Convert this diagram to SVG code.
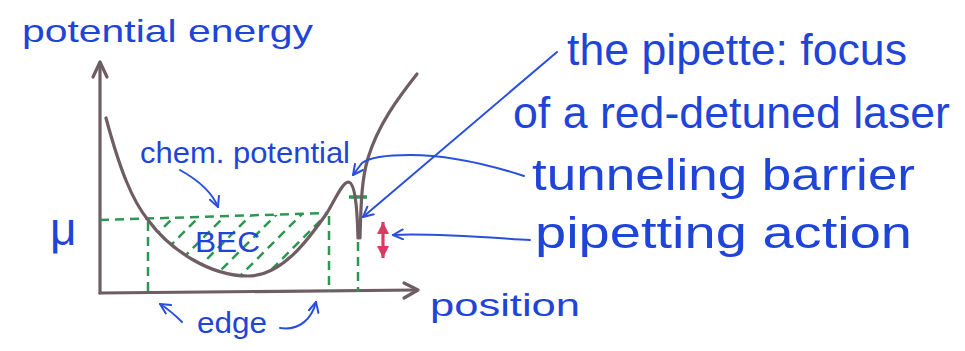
<svg xmlns="http://www.w3.org/2000/svg" width="965" height="351" viewBox="0 0 965 351">
<style>
.ink{fill:#1f44d8;font-family:"Liberation Sans","DejaVu Sans",sans-serif;}
.lead{fill:none;stroke:#2a4fdc;stroke-width:2;stroke-linecap:round;}
.curve{fill:none;stroke:#6e5d62;stroke-width:3.2;stroke-linecap:round;stroke-linejoin:round;}
.dash{fill:none;stroke:#2e9653;stroke-width:2.5;stroke-dasharray:9 6;}
</style>
<defs>
<marker id="blueHead" viewBox="0 0 12 12" refX="11" refY="6" markerWidth="12" markerHeight="12" markerUnits="userSpaceOnUse" orient="auto">
<path d="M1,1 L11,6 L1,11" fill="none" stroke="#2a4fdc" stroke-width="2" stroke-linecap="round" stroke-linejoin="round"/>
</marker>
<marker id="redHead" viewBox="0 0 10 10" refX="10" refY="5" markerWidth="12" markerHeight="12" markerUnits="userSpaceOnUse" orient="auto-start-reverse">
<path d="M0,0 L10,5 L0,10 Z" fill="#d83a62"/>
</marker>
<clipPath id="becClip">
<path d="M148,220 C170,250 210,276 248,276 C282,276 308,240 327,213 Z"/>
</clipPath>
</defs>

<g id="axes">
<path class="curve" d="M100,293 L100,63"/>
<path class="curve" d="M93,77 L100,62 L107,77"/>
<path class="curve" d="M100,293 L417,290"/>
<path class="curve" d="M404,283 L418,290 L404,298"/>
</g>

<g id="bec-hatch" clip-path="url(#becClip)">
<path class="dash" d="M111,280 L178,213 M136,280 L203,213 M161,280 L228,213 M186,280 L253,213 M211,280 L278,213 M236,280 L303,213 M261,280 L328,213 M281,280 L348,213"/>
</g>

<g id="dashed-guides">
<path class="dash" d="M100,220 L327,213"/>
<path class="dash" d="M148,222 L148,292"/>
<path class="dash" d="M329,216 L329,292"/>
<path class="dash" d="M358,242 L358,292"/>
<path d="M349,197 L367,197" stroke="#2e9653" stroke-width="3.5" fill="none"/>
</g>

<g id="potential-curve">
<path class="curve" d="M106,118 C120,170 132,200 148,220 C170,250 210,276 248,276 C282,276 308,240 327,213 C335,200 342,183 348,182 C354,182 357,200 358,238"/>
<path class="curve" d="M360,238 C361,200 362,178 368,158 C378,125 398,98 417,74"/>
</g>

<g id="pipetting-arrow">
<path d="M383,222 L383,258" stroke="#d83a62" stroke-width="3.2" fill="none" marker-start="url(#redHead)" marker-end="url(#redHead)"/>
</g>

<g id="connectors">
<path class="lead" d="M180,170 C198,180 212,192 218,207" marker-end="url(#blueHead)"/>
<path class="lead" d="M182,322 C175,315 168,309 160,304" marker-end="url(#blueHead)"/>
<path class="lead" d="M280,328 C300,331 312,318 316,302" marker-end="url(#blueHead)"/>
<path class="lead" d="M557,52 L363,217" marker-end="url(#blueHead)"/>
<path class="lead" d="M524,176 C490,165 450,155 410,155 C385,155 370,157 362,163 L353,175" marker-end="url(#blueHead)"/>
<path class="lead" d="M530,240 C480,237 430,233 393,235" marker-end="url(#blueHead)"/>
</g>

<g id="label-potential-energy"><text class="ink" x="22" y="42" font-size="32" textLength="291" lengthAdjust="spacingAndGlyphs">potential energy</text></g>
<g id="label-mu"><text class="ink" x="50" y="245" font-size="46">μ</text></g>
<g id="label-chem-potential"><text class="ink" x="140" y="163" font-size="30" textLength="210" lengthAdjust="spacingAndGlyphs">chem. potential</text></g>
<g id="label-bec"><text class="ink" x="195" y="252" font-size="30" textLength="65" lengthAdjust="spacingAndGlyphs">BEC</text></g>
<g id="label-edge"><text class="ink" x="197" y="333" font-size="30" textLength="70" lengthAdjust="spacingAndGlyphs">edge</text></g>
<g id="label-position"><text class="ink" x="430" y="316" font-size="32" textLength="150" lengthAdjust="spacingAndGlyphs">position</text></g>
<g id="label-pipette">
<text class="ink" x="567" y="65" font-size="44" textLength="340" lengthAdjust="spacingAndGlyphs">the pipette: focus</text>
<text class="ink" x="513" y="128" font-size="44" textLength="437" lengthAdjust="spacingAndGlyphs">of a red-detuned laser</text>
</g>
<g id="label-tunneling"><text class="ink" x="532" y="190" font-size="44" textLength="383" lengthAdjust="spacingAndGlyphs">tunneling barrier</text></g>
<g id="label-pipetting"><text class="ink" x="535" y="248" font-size="44" textLength="377" lengthAdjust="spacingAndGlyphs">pipetting action</text></g>
</svg>
